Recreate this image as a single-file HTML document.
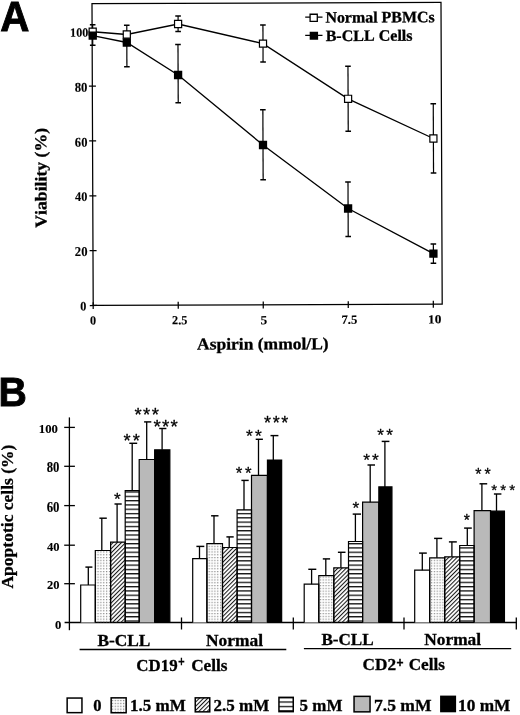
<!DOCTYPE html>
<html><head><meta charset="utf-8"><style>html,body{margin:0;padding:0;background:#fff;}
svg{display:block;filter:grayscale(1);}
text{font-family:"Liberation Serif", serif;font-weight:bold;fill:#000;font-kerning:none;}
.tx{stroke:#000;stroke-width:0.3px;paint-order:stroke;}
.tk{stroke:#000;stroke-width:0.12px;paint-order:stroke;}
.st{font-family:"Liberation Sans", sans-serif;font-weight:normal;stroke:#000;stroke-width:0.3px;stroke-linejoin:round;}
.pl{font-family:"Liberation Sans", sans-serif;font-weight:bold;stroke:#000;stroke-width:0.9px;}</style></head>
<body><svg width="520" height="715" viewBox="0 0 520 715">
<defs>
<pattern id="dots" patternUnits="userSpaceOnUse" width="2.85" height="2.8" x="97.5" y="559.8"><rect x="0" y="0" width="1.2" height="1.2" fill="#888"/></pattern>
<pattern id="diag" patternUnits="userSpaceOnUse" width="2.95" height="10" patternTransform="rotate(45)"><rect x="0" y="0" width="1.05" height="10" fill="#1a1a1a"/></pattern>
<pattern id="hor" patternUnits="userSpaceOnUse" width="10" height="4.3" y="543.0"><rect x="0" y="0" width="10" height="1.3" fill="#111"/></pattern>
<pattern id="ldots" patternUnits="userSpaceOnUse" width="2.8" height="2.9" x="111.9" y="699.9"><rect x="0" y="0" width="1.2" height="1.2" fill="#777"/></pattern>
<pattern id="ldiag" patternUnits="userSpaceOnUse" width="2.95" height="10" patternTransform="rotate(45)"><rect x="0" y="0" width="1.05" height="10" fill="#1a1a1a"/></pattern>
<pattern id="lhor" patternUnits="userSpaceOnUse" width="10" height="4.4" y="701.4"><rect x="0" y="0" width="10" height="1.3" fill="#111"/></pattern>
</defs>
<g transform="rotate(-0.2292 266.0 154.0)"><rect x="92.6" y="3.0" width="349.0" height="301.8" fill="none" stroke="#000" stroke-width="1.25"/>
<line x1="89.19999999999999" y1="304.80" x2="96.19999999999999" y2="304.80" stroke="#000" stroke-width="1.25"/>
<line x1="89.19999999999999" y1="249.96" x2="96.19999999999999" y2="249.96" stroke="#000" stroke-width="1.25"/>
<line x1="89.19999999999999" y1="195.12" x2="96.19999999999999" y2="195.12" stroke="#000" stroke-width="1.25"/>
<line x1="89.19999999999999" y1="140.28" x2="96.19999999999999" y2="140.28" stroke="#000" stroke-width="1.25"/>
<line x1="89.19999999999999" y1="85.44" x2="96.19999999999999" y2="85.44" stroke="#000" stroke-width="1.25"/>
<line x1="89.19999999999999" y1="30.60" x2="96.19999999999999" y2="30.60" stroke="#000" stroke-width="1.25"/>
<line x1="92.60" y1="301.5" x2="92.60" y2="308.40000000000003" stroke="#000" stroke-width="1.25"/>
<line x1="177.62" y1="301.5" x2="177.62" y2="308.40000000000003" stroke="#000" stroke-width="1.25"/>
<line x1="262.65" y1="301.5" x2="262.65" y2="308.40000000000003" stroke="#000" stroke-width="1.25"/>
<line x1="347.67" y1="301.5" x2="347.67" y2="308.40000000000003" stroke="#000" stroke-width="1.25"/>
<line x1="432.70" y1="301.5" x2="432.70" y2="308.40000000000003" stroke="#000" stroke-width="1.25"/>
<text x="70.60" y="35.92" textLength="18.13" lengthAdjust="spacingAndGlyphs" class="tk" style="font-size:12.6px;">100</text>
<text x="74.93" y="90.94" textLength="12.81" lengthAdjust="spacingAndGlyphs" class="tk" style="font-size:13.5px;">80</text>
<text x="74.90" y="145.94" textLength="12.61" lengthAdjust="spacingAndGlyphs" class="tk" style="font-size:13.5px;">60</text>
<text x="74.94" y="200.24" textLength="12.34" lengthAdjust="spacingAndGlyphs" class="tk" style="font-size:13.2px;">40</text>
<text x="74.36" y="255.24" textLength="12.72" lengthAdjust="spacingAndGlyphs" class="tk" style="font-size:13.5px;">20</text>
<text x="79.61" y="309.86" textLength="6.13" lengthAdjust="spacingAndGlyphs" class="tk" style="font-size:12.9px;">0</text>
<text x="89.35" y="323.90" textLength="6.13" lengthAdjust="spacingAndGlyphs" class="tk" style="font-size:12.4px;">0</text>
<text x="171.40" y="323.82" textLength="15.37" lengthAdjust="spacingAndGlyphs" class="tk" style="font-size:12.4px;">2.5</text>
<text x="259.78" y="324.28" textLength="6.73" lengthAdjust="spacingAndGlyphs" class="tk" style="font-size:12.4px;">5</text>
<text x="340.79" y="324.10" textLength="15.89" lengthAdjust="spacingAndGlyphs" class="tk" style="font-size:12.4px;">7.5</text>
<text x="427.35" y="324.05" textLength="13.38" lengthAdjust="spacingAndGlyphs" class="tk" style="font-size:12.4px;">10</text>
<line x1="93.19" y1="31.01" x2="93.19" y2="24.11" stroke="#000" stroke-width="1.2"/>
<line x1="90.39" y1="24.11" x2="95.99" y2="24.11" stroke="#000" stroke-width="1.5"/>
<line x1="127.28" y1="33.94" x2="127.28" y2="24.64" stroke="#000" stroke-width="1.2"/>
<line x1="124.48" y1="24.64" x2="130.08" y2="24.64" stroke="#000" stroke-width="1.5"/>
<line x1="178.62" y1="23.65" x2="178.62" y2="15.55" stroke="#000" stroke-width="1.2"/>
<line x1="175.82" y1="15.55" x2="181.42" y2="15.55" stroke="#000" stroke-width="1.5"/>
<line x1="178.62" y1="23.65" x2="178.62" y2="31.25" stroke="#000" stroke-width="1.2"/>
<line x1="175.82" y1="31.25" x2="181.42" y2="31.25" stroke="#000" stroke-width="1.5"/>
<line x1="263.44" y1="43.59" x2="263.44" y2="24.99" stroke="#000" stroke-width="1.2"/>
<line x1="260.64" y1="24.99" x2="266.24" y2="24.99" stroke="#000" stroke-width="1.5"/>
<line x1="263.44" y1="43.59" x2="263.44" y2="61.89" stroke="#000" stroke-width="1.2"/>
<line x1="260.64" y1="61.89" x2="266.24" y2="61.89" stroke="#000" stroke-width="1.5"/>
<line x1="348.32" y1="99.13" x2="348.32" y2="66.53" stroke="#000" stroke-width="1.2"/>
<line x1="345.52" y1="66.53" x2="351.12" y2="66.53" stroke="#000" stroke-width="1.5"/>
<line x1="348.32" y1="99.13" x2="348.32" y2="131.63" stroke="#000" stroke-width="1.2"/>
<line x1="345.52" y1="131.63" x2="351.12" y2="131.63" stroke="#000" stroke-width="1.5"/>
<line x1="433.46" y1="139.17" x2="433.46" y2="104.47" stroke="#000" stroke-width="1.2"/>
<line x1="430.66" y1="104.47" x2="436.26" y2="104.47" stroke="#000" stroke-width="1.5"/>
<line x1="433.46" y1="139.17" x2="433.46" y2="173.67" stroke="#000" stroke-width="1.2"/>
<line x1="430.66" y1="173.67" x2="436.26" y2="173.67" stroke="#000" stroke-width="1.5"/>
<polyline fill="none" stroke="#000" stroke-width="1.35" points="93.19,31.01 127.28,33.94 178.62,23.65 263.44,43.59 348.32,99.13 433.46,139.17"/>
<line x1="93.17" y1="34.91" x2="93.17" y2="44.51" stroke="#000" stroke-width="1.2"/>
<line x1="90.37" y1="44.51" x2="95.97" y2="44.51" stroke="#000" stroke-width="1.5"/>
<line x1="127.25" y1="41.94" x2="127.25" y2="66.24" stroke="#000" stroke-width="1.2"/>
<line x1="124.45" y1="66.24" x2="130.05" y2="66.24" stroke="#000" stroke-width="1.5"/>
<line x1="178.42" y1="74.65" x2="178.42" y2="44.05" stroke="#000" stroke-width="1.2"/>
<line x1="175.62" y1="44.05" x2="181.22" y2="44.05" stroke="#000" stroke-width="1.5"/>
<line x1="178.42" y1="74.65" x2="178.42" y2="102.45" stroke="#000" stroke-width="1.2"/>
<line x1="175.62" y1="102.45" x2="181.22" y2="102.45" stroke="#000" stroke-width="1.5"/>
<line x1="263.04" y1="144.99" x2="263.04" y2="109.79" stroke="#000" stroke-width="1.2"/>
<line x1="260.24" y1="109.79" x2="265.84" y2="109.79" stroke="#000" stroke-width="1.5"/>
<line x1="263.04" y1="144.99" x2="263.04" y2="179.79" stroke="#000" stroke-width="1.2"/>
<line x1="260.24" y1="179.79" x2="265.84" y2="179.79" stroke="#000" stroke-width="1.5"/>
<line x1="347.88" y1="208.83" x2="347.88" y2="182.33" stroke="#000" stroke-width="1.2"/>
<line x1="345.08" y1="182.33" x2="350.68" y2="182.33" stroke="#000" stroke-width="1.5"/>
<line x1="347.88" y1="208.83" x2="347.88" y2="236.83" stroke="#000" stroke-width="1.2"/>
<line x1="345.08" y1="236.83" x2="350.68" y2="236.83" stroke="#000" stroke-width="1.5"/>
<line x1="433.00" y1="254.27" x2="433.00" y2="244.67" stroke="#000" stroke-width="1.2"/>
<line x1="430.20" y1="244.67" x2="435.80" y2="244.67" stroke="#000" stroke-width="1.5"/>
<line x1="433.00" y1="254.27" x2="433.00" y2="263.87" stroke="#000" stroke-width="1.2"/>
<line x1="430.20" y1="263.87" x2="435.80" y2="263.87" stroke="#000" stroke-width="1.5"/>
<polyline fill="none" stroke="#000" stroke-width="1.35" points="93.17,34.91 127.25,41.94 178.42,74.65 263.04,144.99 347.88,208.83 433.00,254.27"/>
<rect x="89.64" y="27.46" width="7.10" height="7.10" fill="#fff" stroke="#000" stroke-width="1.2"/>
<rect x="123.73" y="30.39" width="7.10" height="7.10" fill="#fff" stroke="#000" stroke-width="1.2"/>
<rect x="175.07" y="20.10" width="7.10" height="7.10" fill="#fff" stroke="#000" stroke-width="1.2"/>
<rect x="259.89" y="40.04" width="7.10" height="7.10" fill="#fff" stroke="#000" stroke-width="1.2"/>
<rect x="344.77" y="95.58" width="7.10" height="7.10" fill="#fff" stroke="#000" stroke-width="1.2"/>
<rect x="429.91" y="135.62" width="7.10" height="7.10" fill="#fff" stroke="#000" stroke-width="1.2"/>
<rect x="89.02" y="30.76" width="8.30" height="8.30" fill="#000"/>
<rect x="123.10" y="37.79" width="8.30" height="8.30" fill="#000"/>
<rect x="174.27" y="70.50" width="8.30" height="8.30" fill="#000"/>
<rect x="258.89" y="140.84" width="8.30" height="8.30" fill="#000"/>
<rect x="343.73" y="204.68" width="8.30" height="8.30" fill="#000"/>
<rect x="428.85" y="250.12" width="8.30" height="8.30" fill="#000"/>
<line x1="305.75" y1="17.26" x2="323.05" y2="17.33" stroke="#000" stroke-width="1.3"/>
<rect x="310.64" y="14.44" width="7.2" height="7.2" fill="#fff" stroke="#000" stroke-width="1.3"/>
<line x1="305.67" y1="35.56" x2="322.97" y2="35.63" stroke="#000" stroke-width="1.3"/>
<rect x="310.17" y="31.89" width="8.4" height="8" fill="#000"/>
<text x="325.92" y="22.84" textLength="109.29" lengthAdjust="spacingAndGlyphs" class="tx" style="font-size:15.8px;">Normal PBMCs</text>
<text x="326.09" y="41.24" textLength="86.96" lengthAdjust="spacingAndGlyphs" class="tx" style="font-size:15.8px;">B-CLL Cells</text>
<text x="196.25" y="349.32" textLength="131.64" lengthAdjust="spacingAndGlyphs" class="tx" style="font-size:16.6px;">Aspirin (mmol/L)</text>
<text transform="translate(46.31,226.82) rotate(-90)" x="0" y="0" textLength="99.78" lengthAdjust="spacingAndGlyphs" class="tx" style="font-size:16.6px;">Viability (%)</text></g>
<text x="0.19" y="30.60" textLength="29.17" lengthAdjust="spacingAndGlyphs" class="pl" style="font-size:42px;">A</text>
<line x1="69.4" y1="417.4" x2="69.4" y2="630.2" stroke="#000" stroke-width="1.3"/>
<line x1="64.6" y1="622.5" x2="516.9" y2="622.5" stroke="#000" stroke-width="1.3"/>
<line x1="64.2" y1="583.70" x2="74.9" y2="583.70" stroke="#000" stroke-width="1.3"/>
<line x1="64.2" y1="545.20" x2="74.9" y2="545.20" stroke="#000" stroke-width="1.3"/>
<line x1="64.2" y1="505.60" x2="74.9" y2="505.60" stroke="#000" stroke-width="1.3"/>
<line x1="64.2" y1="466.30" x2="74.9" y2="466.30" stroke="#000" stroke-width="1.3"/>
<line x1="64.2" y1="427.40" x2="74.9" y2="427.40" stroke="#000" stroke-width="1.3"/>
<text x="38.78" y="433.00" textLength="19.11" lengthAdjust="spacingAndGlyphs" class="tk" style="font-size:13.3px;">100</text>
<text x="46.68" y="472.00" textLength="12.71" lengthAdjust="spacingAndGlyphs" class="tk" style="font-size:14.0px;">80</text>
<text x="46.66" y="511.60" textLength="12.83" lengthAdjust="spacingAndGlyphs" class="tk" style="font-size:13.6px;">60</text>
<text x="46.93" y="551.10" textLength="12.55" lengthAdjust="spacingAndGlyphs" class="tk" style="font-size:13.4px;">40</text>
<text x="46.98" y="589.20" textLength="12.50" lengthAdjust="spacingAndGlyphs" class="tk" style="font-size:13.2px;">20</text>
<text x="55.11" y="629.20" textLength="6.37" lengthAdjust="spacingAndGlyphs" class="tk" style="font-size:12.9px;">0</text>
<line x1="181.5" y1="617.5" x2="181.5" y2="629.5" stroke="#000" stroke-width="1.3"/>
<line x1="293.3" y1="617.5" x2="293.3" y2="629.5" stroke="#000" stroke-width="1.3"/>
<line x1="404.0" y1="617.5" x2="404.0" y2="629.5" stroke="#000" stroke-width="1.3"/>
<line x1="516.3" y1="617.5" x2="516.3" y2="629.5" stroke="#000" stroke-width="1.3"/>
<rect x="80.70" y="585.00" width="14.60" height="37.50" fill="#fff"/>
<rect x="95.30" y="550.50" width="15.30" height="72.00" fill="url(#dots)"/>
<rect x="110.60" y="542.10" width="14.60" height="80.40" fill="url(#diag)"/>
<rect x="125.20" y="490.60" width="14.00" height="131.90" fill="url(#hor)"/>
<rect x="139.20" y="459.50" width="15.45" height="163.00" fill="#b9b9b9"/>
<rect x="154.65" y="449.80" width="15.20" height="172.70" fill="#000"/>
<path d="M80.70,622.5 V585.00 H95.30 V622.5" fill="none" stroke="#000" stroke-width="1.2"/>
<path d="M95.30,622.5 V550.50 H110.60 V622.5" fill="none" stroke="#000" stroke-width="1.2"/>
<path d="M110.60,622.5 V542.10 H125.20 V622.5" fill="none" stroke="#000" stroke-width="1.2"/>
<path d="M125.20,622.5 V490.60 H139.20 V622.5" fill="none" stroke="#000" stroke-width="1.2"/>
<path d="M139.20,622.5 V459.50 H154.65 V622.5" fill="none" stroke="#000" stroke-width="1.2"/>
<path d="M154.65,622.5 V449.80 H169.85 V622.5" fill="none" stroke="#000" stroke-width="1.2"/>
<line x1="88.30" y1="585.00" x2="88.30" y2="567.10" stroke="#000" stroke-width="1.3"/>
<line x1="85.40" y1="567.10" x2="92.40" y2="567.10" stroke="#000" stroke-width="1.45"/>
<line x1="101.80" y1="550.50" x2="101.80" y2="518.20" stroke="#000" stroke-width="1.3"/>
<line x1="99.40" y1="518.20" x2="106.80" y2="518.20" stroke="#000" stroke-width="1.45"/>
<line x1="117.10" y1="542.10" x2="117.10" y2="504.00" stroke="#000" stroke-width="1.3"/>
<line x1="114.50" y1="504.00" x2="121.70" y2="504.00" stroke="#000" stroke-width="1.45"/>
<text x="113.92" y="504.66" class="st" style="font-size:17.09px">*</text>
<line x1="132.20" y1="490.60" x2="132.20" y2="443.30" stroke="#000" stroke-width="1.3"/>
<line x1="129.30" y1="443.30" x2="137.20" y2="443.30" stroke="#000" stroke-width="1.45"/>
<text x="123.61" y="447.44" class="st" style="font-size:18.23px">*</text>
<text x="132.69" y="447.44" class="st" style="font-size:18.23px">*</text>
<line x1="146.70" y1="459.50" x2="146.70" y2="421.90" stroke="#000" stroke-width="1.3"/>
<line x1="144.10" y1="421.90" x2="151.30" y2="421.90" stroke="#000" stroke-width="1.45"/>
<text x="134.40" y="421.14" class="st" style="font-size:18.51px">*</text>
<text x="143.09" y="421.14" class="st" style="font-size:18.51px">*</text>
<text x="151.78" y="421.14" class="st" style="font-size:18.51px">*</text>
<line x1="162.10" y1="449.80" x2="162.10" y2="428.50" stroke="#000" stroke-width="1.3"/>
<line x1="159.20" y1="428.50" x2="166.40" y2="428.50" stroke="#000" stroke-width="1.45"/>
<text x="153.50" y="432.83" class="st" style="font-size:18.80px">*</text>
<text x="161.99" y="432.83" class="st" style="font-size:18.80px">*</text>
<text x="170.48" y="432.83" class="st" style="font-size:18.80px">*</text>
<rect x="192.70" y="558.60" width="14.20" height="63.90" fill="#fff"/>
<rect x="206.90" y="543.70" width="15.60" height="78.80" fill="url(#dots)"/>
<rect x="222.50" y="547.50" width="14.60" height="75.00" fill="url(#diag)"/>
<rect x="237.10" y="509.90" width="14.40" height="112.60" fill="url(#hor)"/>
<rect x="251.50" y="475.30" width="15.95" height="147.20" fill="#b9b9b9"/>
<rect x="267.45" y="460.00" width="14.20" height="162.50" fill="#000"/>
<path d="M192.70,622.5 V558.60 H206.90 V622.5" fill="none" stroke="#000" stroke-width="1.2"/>
<path d="M206.90,622.5 V543.70 H222.50 V622.5" fill="none" stroke="#000" stroke-width="1.2"/>
<path d="M222.50,622.5 V547.50 H237.10 V622.5" fill="none" stroke="#000" stroke-width="1.2"/>
<path d="M237.10,622.5 V509.90 H251.50 V622.5" fill="none" stroke="#000" stroke-width="1.2"/>
<path d="M251.50,622.5 V475.30 H267.45 V622.5" fill="none" stroke="#000" stroke-width="1.2"/>
<path d="M267.45,622.5 V460.00 H281.65 V622.5" fill="none" stroke="#000" stroke-width="1.2"/>
<line x1="199.50" y1="558.60" x2="199.50" y2="546.40" stroke="#000" stroke-width="1.3"/>
<line x1="196.40" y1="546.40" x2="204.30" y2="546.40" stroke="#000" stroke-width="1.45"/>
<line x1="214.00" y1="543.70" x2="214.00" y2="515.80" stroke="#000" stroke-width="1.3"/>
<line x1="211.10" y1="515.80" x2="218.50" y2="515.80" stroke="#000" stroke-width="1.45"/>
<line x1="229.20" y1="547.50" x2="229.20" y2="536.90" stroke="#000" stroke-width="1.3"/>
<line x1="226.40" y1="536.90" x2="233.70" y2="536.90" stroke="#000" stroke-width="1.45"/>
<line x1="244.00" y1="509.90" x2="244.00" y2="480.40" stroke="#000" stroke-width="1.3"/>
<line x1="241.40" y1="480.40" x2="248.70" y2="480.40" stroke="#000" stroke-width="1.45"/>
<text x="235.83" y="478.86" class="st" style="font-size:16.81px">*</text>
<text x="245.12" y="478.86" class="st" style="font-size:16.81px">*</text>
<line x1="258.50" y1="475.30" x2="258.50" y2="439.30" stroke="#000" stroke-width="1.3"/>
<line x1="255.70" y1="439.30" x2="262.90" y2="439.30" stroke="#000" stroke-width="1.45"/>
<text x="246.02" y="441.55" class="st" style="font-size:17.38px">*</text>
<text x="255.01" y="441.55" class="st" style="font-size:17.38px">*</text>
<line x1="273.30" y1="460.00" x2="273.30" y2="435.60" stroke="#000" stroke-width="1.3"/>
<line x1="270.50" y1="435.60" x2="278.40" y2="435.60" stroke="#000" stroke-width="1.45"/>
<text x="264.11" y="429.45" class="st" style="font-size:17.94px">*</text>
<text x="272.70" y="429.45" class="st" style="font-size:17.94px">*</text>
<text x="281.30" y="429.45" class="st" style="font-size:17.94px">*</text>
<rect x="304.20" y="584.20" width="14.60" height="38.30" fill="#fff"/>
<rect x="318.80" y="575.60" width="15.00" height="46.90" fill="url(#dots)"/>
<rect x="333.80" y="567.80" width="14.70" height="54.70" fill="url(#diag)"/>
<rect x="348.50" y="541.50" width="14.10" height="81.00" fill="url(#hor)"/>
<rect x="362.60" y="502.20" width="16.25" height="120.30" fill="#b9b9b9"/>
<rect x="378.85" y="486.90" width="13.10" height="135.60" fill="#000"/>
<path d="M304.20,622.5 V584.20 H318.80 V622.5" fill="none" stroke="#000" stroke-width="1.2"/>
<path d="M318.80,622.5 V575.60 H333.80 V622.5" fill="none" stroke="#000" stroke-width="1.2"/>
<path d="M333.80,622.5 V567.80 H348.50 V622.5" fill="none" stroke="#000" stroke-width="1.2"/>
<path d="M348.50,622.5 V541.50 H362.60 V622.5" fill="none" stroke="#000" stroke-width="1.2"/>
<path d="M362.60,622.5 V502.20 H378.85 V622.5" fill="none" stroke="#000" stroke-width="1.2"/>
<path d="M378.85,622.5 V486.90 H391.95 V622.5" fill="none" stroke="#000" stroke-width="1.2"/>
<line x1="311.60" y1="584.20" x2="311.60" y2="569.30" stroke="#000" stroke-width="1.3"/>
<line x1="308.30" y1="569.30" x2="316.30" y2="569.30" stroke="#000" stroke-width="1.45"/>
<line x1="325.80" y1="575.60" x2="325.80" y2="558.90" stroke="#000" stroke-width="1.3"/>
<line x1="322.80" y1="558.90" x2="330.10" y2="558.90" stroke="#000" stroke-width="1.45"/>
<line x1="340.90" y1="567.80" x2="340.90" y2="552.30" stroke="#000" stroke-width="1.3"/>
<line x1="337.90" y1="552.30" x2="345.50" y2="552.30" stroke="#000" stroke-width="1.45"/>
<line x1="355.40" y1="541.50" x2="355.40" y2="514.10" stroke="#000" stroke-width="1.3"/>
<line x1="352.70" y1="514.10" x2="361.00" y2="514.10" stroke="#000" stroke-width="1.45"/>
<text x="352.52" y="513.85" class="st" style="font-size:17.38px">*</text>
<line x1="370.20" y1="502.20" x2="370.20" y2="465.00" stroke="#000" stroke-width="1.3"/>
<line x1="367.50" y1="465.00" x2="375.00" y2="465.00" stroke="#000" stroke-width="1.45"/>
<text x="363.32" y="465.65" class="st" style="font-size:17.38px">*</text>
<text x="372.01" y="465.65" class="st" style="font-size:17.38px">*</text>
<line x1="384.90" y1="486.90" x2="384.90" y2="441.40" stroke="#000" stroke-width="1.3"/>
<line x1="381.70" y1="441.40" x2="389.40" y2="441.40" stroke="#000" stroke-width="1.45"/>
<text x="377.22" y="441.36" class="st" style="font-size:17.09px">*</text>
<text x="386.32" y="441.36" class="st" style="font-size:17.09px">*</text>
<rect x="414.70" y="570.20" width="15.00" height="52.30" fill="#fff"/>
<rect x="429.70" y="557.80" width="15.00" height="64.70" fill="url(#dots)"/>
<rect x="444.70" y="556.80" width="15.00" height="65.70" fill="url(#diag)"/>
<rect x="459.70" y="545.50" width="14.40" height="77.00" fill="url(#hor)"/>
<rect x="474.10" y="510.60" width="16.45" height="111.90" fill="#b9b9b9"/>
<rect x="490.55" y="511.10" width="13.90" height="111.40" fill="#000"/>
<path d="M414.70,622.5 V570.20 H429.70 V622.5" fill="none" stroke="#000" stroke-width="1.2"/>
<path d="M429.70,622.5 V557.80 H444.70 V622.5" fill="none" stroke="#000" stroke-width="1.2"/>
<path d="M444.70,622.5 V556.80 H459.70 V622.5" fill="none" stroke="#000" stroke-width="1.2"/>
<path d="M459.70,622.5 V545.50 H474.10 V622.5" fill="none" stroke="#000" stroke-width="1.2"/>
<path d="M474.10,622.5 V510.60 H490.55 V622.5" fill="none" stroke="#000" stroke-width="1.2"/>
<path d="M490.55,622.5 V511.10 H504.45 V622.5" fill="none" stroke="#000" stroke-width="1.2"/>
<line x1="422.30" y1="570.20" x2="422.30" y2="553.10" stroke="#000" stroke-width="1.3"/>
<line x1="419.10" y1="553.10" x2="426.80" y2="553.10" stroke="#000" stroke-width="1.45"/>
<line x1="436.90" y1="557.80" x2="436.90" y2="538.40" stroke="#000" stroke-width="1.3"/>
<line x1="434.10" y1="538.40" x2="442.20" y2="538.40" stroke="#000" stroke-width="1.45"/>
<line x1="451.90" y1="556.80" x2="451.90" y2="541.90" stroke="#000" stroke-width="1.3"/>
<line x1="448.90" y1="541.90" x2="456.80" y2="541.90" stroke="#000" stroke-width="1.45"/>
<line x1="467.30" y1="545.50" x2="467.30" y2="528.10" stroke="#000" stroke-width="1.3"/>
<line x1="464.10" y1="528.10" x2="471.80" y2="528.10" stroke="#000" stroke-width="1.45"/>
<text x="463.85" y="526.48" class="st" style="font-size:15.67px">*</text>
<line x1="481.90" y1="510.60" x2="481.90" y2="483.80" stroke="#000" stroke-width="1.3"/>
<line x1="479.50" y1="483.80" x2="487.20" y2="483.80" stroke="#000" stroke-width="1.45"/>
<text x="475.14" y="480.07" class="st" style="font-size:15.95px">*</text>
<text x="484.54" y="480.07" class="st" style="font-size:15.95px">*</text>
<line x1="496.50" y1="511.10" x2="496.50" y2="494.00" stroke="#000" stroke-width="1.3"/>
<line x1="493.90" y1="494.00" x2="501.40" y2="494.00" stroke="#000" stroke-width="1.45"/>
<text x="491.16" y="495.29" class="st" style="font-size:15.10px">*</text>
<text x="500.21" y="495.29" class="st" style="font-size:15.10px">*</text>
<text x="509.26" y="495.29" class="st" style="font-size:15.10px">*</text>
<text x="97.41" y="646.30" textLength="52.91" lengthAdjust="spacingAndGlyphs" class="tx" style="font-size:16px;">B-CLL</text>
<text x="206.07" y="645.90" textLength="56.93" lengthAdjust="spacingAndGlyphs" class="tx" style="font-size:16px;">Normal</text>
<text x="321.42" y="645.40" textLength="52.30" lengthAdjust="spacingAndGlyphs" class="tx" style="font-size:16px;">B-CLL</text>
<text x="424.37" y="644.70" textLength="56.73" lengthAdjust="spacingAndGlyphs" class="tx" style="font-size:16px;">Normal</text>
<line x1="79.6" y1="649.5" x2="286.3" y2="649.5" stroke="#000" stroke-width="1.4"/>
<line x1="303.9" y1="648.6" x2="511.2" y2="648.6" stroke="#000" stroke-width="1.4"/>
<text x="136.38" y="670.50" textLength="41.23" lengthAdjust="spacingAndGlyphs" class="tx" style="font-size:16.2px;">CD19</text>
<text x="178.31" y="666.10" textLength="6.37" lengthAdjust="spacingAndGlyphs" class="tx" style="font-size:14.2px;stroke-width:0.7px;">+</text>
<text x="191.16" y="670.50" textLength="36.26" lengthAdjust="spacingAndGlyphs" class="tx" style="font-size:16.2px;">Cells</text>
<text x="362.56" y="669.60" textLength="33.48" lengthAdjust="spacingAndGlyphs" class="tx" style="font-size:16.2px;">CD2</text>
<text x="396.55" y="666.50" textLength="6.99" lengthAdjust="spacingAndGlyphs" class="tx" style="font-size:14.4px;stroke-width:0.7px;">+</text>
<text x="408.66" y="669.60" textLength="36.26" lengthAdjust="spacingAndGlyphs" class="tx" style="font-size:16.2px;">Cells</text>
<text transform="translate(13.20,588.57) rotate(-90)" x="0" y="0" textLength="144.04" lengthAdjust="spacingAndGlyphs" class="tx" style="font-size:16.5px;">Apoptotic cells (%)</text>
<rect x="67.15" y="698.05" width="14.80" height="14.60" fill="#fff" stroke="#000" stroke-width="1.5"/>
<rect x="111.15" y="697.85" width="15.00" height="14.90" fill="url(#ldots)" stroke="#000" stroke-width="1.5"/>
<rect x="195.25" y="697.85" width="14.50" height="14.00" fill="url(#ldiag)" stroke="#000" stroke-width="1.5"/>
<rect x="278.95" y="697.35" width="14.30" height="14.30" fill="url(#lhor)" stroke="#000" stroke-width="1.5"/>
<rect x="354.05" y="696.35" width="16.00" height="15.50" fill="#b9b9b9" stroke="#000" stroke-width="1.5"/>
<rect x="440.85" y="696.35" width="14.50" height="15.20" fill="#000" stroke="#000" stroke-width="1.5"/>
<text x="93.37" y="710.50" textLength="8.26" lengthAdjust="spacingAndGlyphs" class="tx" style="font-size:16.2px;">0</text>
<text x="130.04" y="710.50" textLength="55.75" lengthAdjust="spacingAndGlyphs" class="tx" style="font-size:16.2px;">1.5 mM</text>
<text x="213.58" y="710.50" textLength="55.81" lengthAdjust="spacingAndGlyphs" class="tx" style="font-size:16.2px;">2.5 mM</text>
<text x="299.62" y="710.50" textLength="42.87" lengthAdjust="spacingAndGlyphs" class="tx" style="font-size:16.2px;">5 mM</text>
<text x="374.00" y="710.50" textLength="57.51" lengthAdjust="spacingAndGlyphs" class="tx" style="font-size:16.2px;">7.5 mM</text>
<text x="458.12" y="710.50" textLength="52.28" lengthAdjust="spacingAndGlyphs" class="tx" style="font-size:16.2px;">10 mM</text>
<text x="-1.42" y="405.90" textLength="28.30" lengthAdjust="spacingAndGlyphs" class="pl" style="font-size:41px;">B</text>
</svg></body></html>
